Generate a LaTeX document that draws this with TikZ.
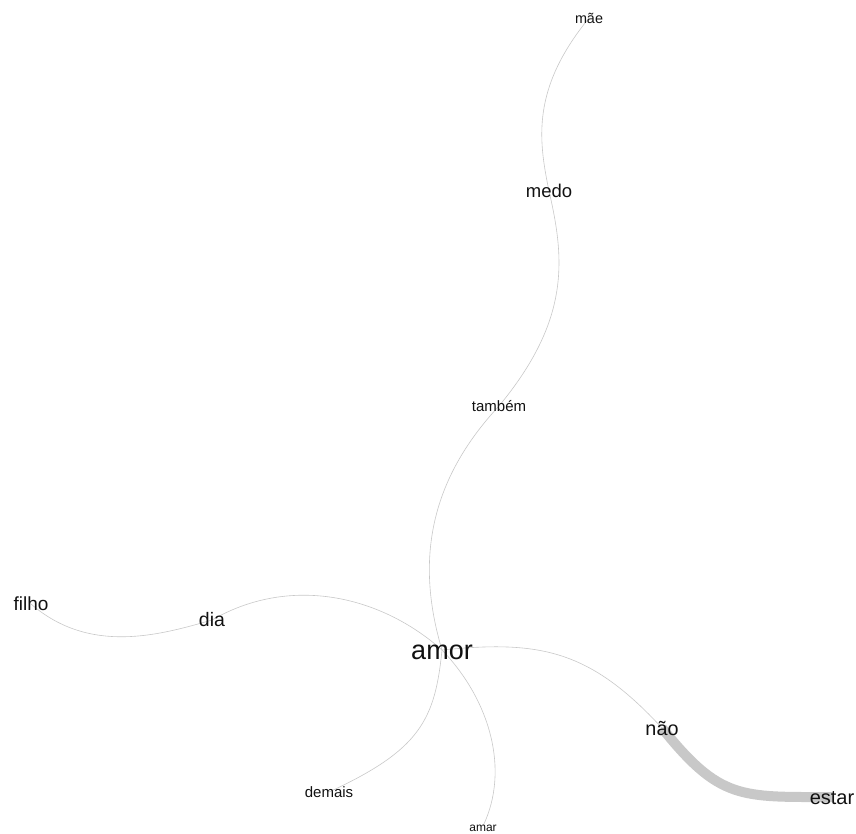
\documentclass[tikz,border=0pt]{standalone}
\usepackage{fontspec}
\setmainfont{Liberation Sans}
\usetikzlibrary{backgrounds}
\definecolor{edgegray}{HTML}{C8C8C8}
\definecolor{txt}{HTML}{111111}
\newcommand{\lowered}[1]{\raisebox{-0.22em}{#1}}
\tikzset{
  word/.style={anchor=mid, inner sep=0pt, text=txt},
  edge/.style={draw=edgegray, line width=0.6pt},
  heavy/.style={draw=edgegray, line width=10pt},
}
\begin{document}
\begin{tikzpicture}[x=1pt,y=-1pt]
\useasboundingbox (0,0) rectangle (856,834);
\node[word, font=\fontsize{27}{27}\selectfont] (amor) at (442,650) {\raisebox{-0.26em}{amor}};
\node[word, font=\fontsize{14.4}{14.4}\selectfont] (mae) at (589,18) {\lowered{mãe}};
\node[word, font=\fontsize{18.5}{18.5}\selectfont] (medo) at (549,191) {\lowered{medo}};
\node[word, font=\fontsize{15}{15}\selectfont] (tambem) at (499,406) {\lowered{também}};
\node[word, font=\fontsize{19}{19}\selectfont] (filho) at (31,604) {\lowered{filho}};
\node[word, font=\fontsize{19.5}{19.5}\selectfont] (dia) at (212,620) {\lowered{dia}};
\node[word, font=\fontsize{15}{15}\selectfont] (demais) at (329,792) {\lowered{demais}};
\node[word, font=\fontsize{12}{12}\selectfont] (amar) at (483,826) {\lowered{amar}};
\node[word, font=\fontsize{19.8}{19.8}\selectfont] (nao) at (662,728) {\lowered{não}};
\node[word, font=\fontsize{20}{20}\selectfont] (estar) at (832,797) {\lowered{estar}};
\begin{pgfonlayer}{background}
\draw[edge] (mae.mid) .. controls (532,88) and (538,138) .. (medo.mid);
\draw[edge] (medo.mid) .. controls (565,260) and (570,320) .. (tambem.mid);
\draw[edge] (tambem.mid) .. controls (430,480) and (415,560) .. (amor.mid);
\draw[edge] (amor.mid) .. controls (380,595) and (290,575) .. (dia.mid);
\draw[edge] (dia.mid) .. controls (160,635) and (90,655) .. (filho.mid);
\draw[edge] (amor.mid) .. controls (540,640) and (590,650) .. (nao.mid);
\draw[heavy] (nao.mid) .. controls (720,800) and (740,797) .. (estar.mid);
\draw[edge] (amor.mid) .. controls (435,720) and (420,750) .. (demais.mid);
\draw[edge] (amor.mid) .. controls (490,700) and (510,770) .. (amar.mid);
\end{pgfonlayer}
\end{tikzpicture}
\end{document}
